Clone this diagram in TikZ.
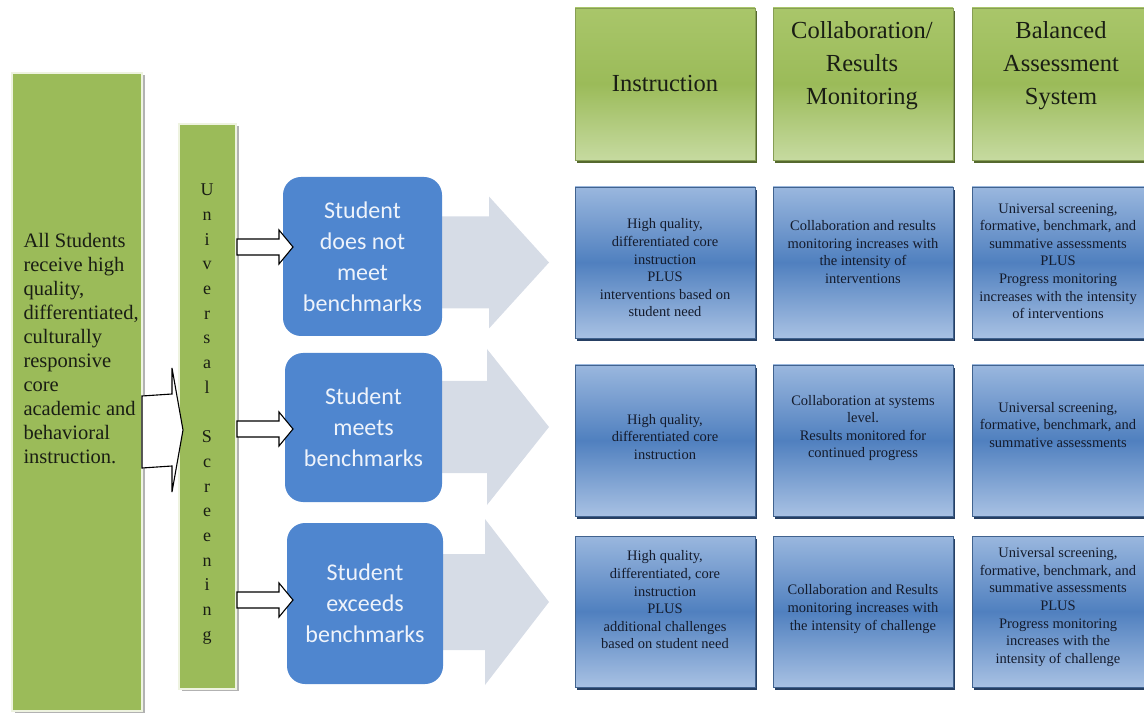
\documentclass[tikz,border=0pt]{standalone}
\usepackage{fontspec}
\setmainfont{Liberation Serif}
\newfontfamily\calib{Carlito}
\usetikzlibrary{calc,shadows}

\definecolor{lgreen}{HTML}{9BBB59}
\definecolor{lgreenedge}{HTML}{EEF3E0}
\definecolor{hgtop}{HTML}{A9C66A}
\definecolor{hgmid}{HTML}{9BBB59}
\definecolor{hgbot}{HTML}{C6DAA0}
\definecolor{hshadow}{HTML}{55692E}
\definecolor{btop}{HTML}{9AB7DE}
\definecolor{bmid}{HTML}{5080BF}
\definecolor{bbot}{HTML}{A8C1E3}
\definecolor{bedge}{HTML}{41638F}
\definecolor{bshadow}{HTML}{263F63}
\definecolor{sblue}{HTML}{4F86CF}
\definecolor{sbtext}{HTML}{EEF3FB}
\definecolor{parrow}{HTML}{D6DCE6}
\definecolor{ink}{HTML}{1A1E14}
\definecolor{bink}{HTML}{141B2C}

% block arrow: style, start, tip, shaft half-width, head half-width, head length
\newcommand{\blockarr}[6]{%
  \path[#1] ($(#2)+(0,-#4)$) -- ($(#3)+(-#6,-#4)$) -- ($(#3)+(-#6,-#5)$) -- (#3)
    -- ($(#3)+(-#6,#5)$) -- ($(#3)+(-#6,#4)$) -- ($(#2)+(0,#4)$) -- cycle;}

\begin{document}
\begin{tikzpicture}[x=1pt,y=-1pt,
  base/.style={inner sep=0pt, outer sep=0pt, anchor=north west},
  sidebox/.style={base, fill=lgreen, draw=lgreenedge, line width=2.5pt,
    drop shadow={shadow xshift=3pt, shadow yshift=-2pt, fill=black!30, opacity=1}},
  hdrbox/.style={base, minimum width=180pt, minimum height=152pt,
    top color=hgtop, bottom color=hgbot, middle color=hgmid,
    draw=hgtop!80!black, line width=0.4pt,
    drop shadow={shadow xshift=2pt, shadow yshift=-3pt, fill=hshadow, opacity=1}},
  cellbox/.style={base, minimum width=180pt, minimum height=151pt,
    top color=btop, bottom color=bbot, middle color=bmid,
    draw=bedge, line width=0.5pt,
    drop shadow={shadow xshift=2pt, shadow yshift=-3pt, fill=bshadow, opacity=1}},
  stubox/.style={base, fill=sblue, draw=none, rounded corners=18pt,
    text=sbtext, align=center, font=\calib\fontsize{24}{31}\selectfont},
  hdrtext/.style={align=center, text=ink, font=\fontsize{24.5}{33}\selectfont},
  celltext/.style={align=center, text=bink, font=\fontsize{14.5}{17.6}\selectfont},
  hollow/.style={fill=white, draw=black, line width=1.1pt, line join=miter},
  pale/.style={fill=parrow, draw=none}
]
\useasboundingbox (0,0) rectangle (1144,719);

% left column
\node[sidebox, minimum width=130pt, minimum height=638pt] (allbox) at (12,73) {};
\node[anchor=west, align=left, text=ink, font=\fontsize{20.5}{24}\selectfont] (alltext) at (20,349)
  {All Students\\receive high\\quality,\\differentiated,\\culturally\\responsive\\core\\academic and\\behavioral\\instruction.};
\node[sidebox, minimum width=57pt, minimum height=565pt] (us) at (179,124) {};
\node[align=center, text=ink, font=\fontsize{18}{24.7}\selectfont] (ustext) at (207,414)
  {U\\n\\i\\v\\e\\r\\s\\a\\l\\\mbox{}\\S\\c\\r\\e\\e\\n\\i\\n\\g};

% column headers
\node[hdrbox] (h1) at (575,8) {};
\node[hdrbox] (h2) at (773,8) {};
\node[hdrbox] (h3) at (972,8) {};
\node[hdrtext] (h1t) at (665,84) {Instruction};
\node[hdrtext] (h2t) at (862,66) {Collaboration/\\Results\\Monitoring};
\node[hdrtext] (h3t) at (1061,66) {Balanced\\Assessment\\System};

% cells
\node[cellbox] (r1c1) at (575,187) {};
\node[cellbox] (r1c2) at (773,187) {};
\node[cellbox] (r1c3) at (972,187) {};
\node[cellbox] (r2c1) at (575,365) {};
\node[cellbox] (r2c2) at (773,365) {};
\node[cellbox] (r2c3) at (972,365) {};
\node[cellbox] (r3c1) at (575,536) {};
\node[cellbox] (r3c2) at (773,536) {};
\node[cellbox] (r3c3) at (972,536) {};

\node[celltext] (t11) at (665,268) {High quality,\\differentiated core\\instruction\\PLUS\\interventions based on\\student need};
\node[celltext] (t12) at (863,252) {Collaboration and results\\monitoring increases with\\the intensity of\\interventions};
\node[celltext] (t13) at (1058,261) {Universal screening,\\formative, benchmark, and\\summative assessments\\PLUS\\Progress monitoring\\increases with the intensity\\of interventions};
\node[celltext] (t21) at (665,437) {High quality,\\differentiated core\\instruction};
\node[celltext] (t22) at (863,428) {Collaboration at systems\\level.\\Results monitored for\\continued progress};
\node[celltext] (t23) at (1058,425) {Universal screening,\\formative, benchmark, and\\summative assessments};
\node[celltext] (t31) at (665,600) {High quality,\\differentiated, core\\instruction\\PLUS\\additional challenges\\based on student need};
\node[celltext] (t32) at (863,609) {Collaboration and Results\\monitoring increases with\\the intensity of challenge};
\node[celltext] (t33) at (1058,607) {Universal screening,\\formative, benchmark, and\\summative assessments\\PLUS\\Progress monitoring\\increases with the\\intensity of challenge};

% pale arrows from the student boxes towards the table
\coordinate (p1s) at (362,262);
\coordinate (p1t) at ($(r1c1.west)+(-26,0)$);
\coordinate (p2s) at (362,427);
\coordinate (p2t) at ($(r2c1.west |- 0,427)+(-26,0)$);
\coordinate (p3s) at (362,602);
\coordinate (p3t) at ($(r3c1.west |- 0,602)+(-26,0)$);
\blockarr{pale}{p1s}{p1t}{46}{66}{60}
\blockarr{pale}{p2s}{p2t}{46}{78}{62}
\blockarr{pale}{p3s}{p3t}{48}{83}{64}

% student boxes
\node[stubox, minimum width=159pt, minimum height=159pt] (sb1) at (283,177) {Student\\does not\\meet\\benchmarks};
\node[stubox, minimum width=157pt, minimum height=149pt] (sb2) at (285,353) {Student\\meets\\benchmarks};
\node[stubox, minimum width=156pt, minimum height=161pt] (sb3) at (287,523) {Student\\exceeds\\benchmarks};

% hollow arrows
\coordinate (m0s) at (allbox.east |- 0,432);
\coordinate (m0t) at ($(us.west |- 0,430)+(4,0)$);
\blockarr{hollow}{m0s}{m0t}{36}{62}{11}

\coordinate (s1) at ($(us.east |- 0,247)+(1,0)$);
\coordinate (e1) at ($(sb1.west |- 0,247)+(10,0)$);
\coordinate (s2) at ($(us.east |- 0,429)+(1,0)$);
\coordinate (e2) at ($(sb2.west |- 0,429)+(8,0)$);
\coordinate (s3) at ($(us.east |- 0,600)+(1,0)$);
\coordinate (e3) at ($(sb3.west |- 0,600)+(6,0)$);
\blockarr{hollow}{s1}{e1}{8}{17}{14}
\blockarr{hollow}{s2}{e2}{8}{17}{14}
\blockarr{hollow}{s3}{e3}{8}{17}{14}
\end{tikzpicture}
\end{document}
